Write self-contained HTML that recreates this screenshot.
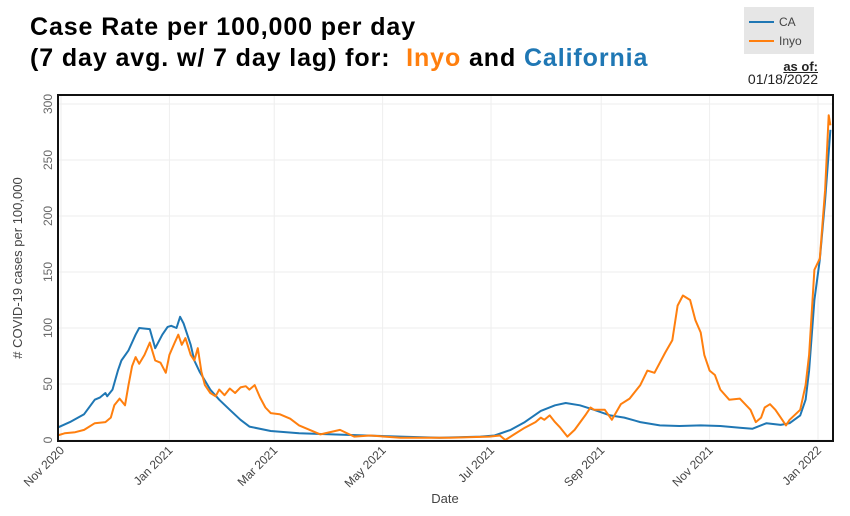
<!DOCTYPE html>
<html><head><meta charset="utf-8">
<style>
body{margin:0;background:#fff;width:850px;height:516px;overflow:hidden;font-family:"Liberation Sans",sans-serif;}
#wrap{position:relative;width:850px;height:516px;}
.title{position:absolute;left:30px;top:12px;font-weight:bold;font-size:25px;line-height:31px;color:#000;letter-spacing:0.9px}
.legend{position:absolute;left:744px;top:7px;width:70px;height:47px;background:#e6e6e6}
.asof{position:absolute;right:32px;top:60px;text-align:right;font-size:14px;line-height:13px;color:#222}
</style></head><body>
<div id="wrap">
<div class="title">Case Rate per 100,000 per day<br>(7 day avg. w/ 7 day lag) for:&nbsp; <span style="color:#ff7f0e">Inyo</span> and <span style="color:#1f77b4">California</span></div>
<div class="legend">
<svg width="70" height="47">
<g><line x1="5" y1="15" x2="30" y2="15" stroke="#1f77b4" stroke-width="2"/><text x="35" y="19" font-size="12" fill="#444">CA</text></g>
<g><line x1="5" y1="34" x2="30" y2="34" stroke="#ff7f0e" stroke-width="2"/><text x="35" y="38" font-size="12" fill="#444">Inyo</text></g>
</svg></div>
<div class="asof"><b style="text-decoration:underline;font-size:13px">as of:</b><br>01/18/2022</div>
<svg id="chart" width="850" height="516" style="position:absolute;left:0;top:0"></svg>
</div>
<script>
const yTicks=[0,50,100,150,200,250,300];
const xTickLabels=["Nov 2020","Jan 2021","Mar 2021","May 2021","Jul 2021","Sep 2021","Nov 2021","Jan 2022"];
const xTickDays=[0,61,120,181,242,304,365,426];
const caDays=[-2,5,13,19,22,25,26,29,32,34,38,42,44,50,53,57,60,62,65,67,69,73,75,78,84,89,95,101,106,118,134,163,191,213,236,244,253,261,270,278,284,292,300,309,317,326,337,348,360,371,382,389,397,405,410,416,419,421,424,427,430,433];
const caVals=[11,16,23,36,38,42,39,45,62,71,80,94,100,99,82,94,101,102,100,110,104,85,71,61,45,36,27,18,12,8,6,4.5,3,2,3,4,9,16,26,31,33,31,27,22,20,16,13,12.5,13,12.5,11,10,15,13.5,15,22,36,62,125,161,214,277];
const inDays=[-2,2,8,13,19,25,28,30,33,36,38,40,42,44,47,50,53,56,59,61,64,66,68,70,73,75,77,79,81,84,87,89,92,95,98,101,104,106,109,112,115,118,123,129,134,140,146,157,165,174,191,219,241,247,250,255,261,267,270,272,275,278,281,285,289,295,298,300,306,310,315,320,326,330,334,340,344,347,350,354,357,360,362,365,368,371,376,382,388,391,394,396,399,402,405,408,410,416,419,421,424,427,430,432,433];
const inVals=[4,6,7,9,15,16,20,31,37,31,49,66,74,68,76,87,71,69,60,76,87,94,85,91,76,71,82,61,49,42,39,45,40,46,42,47,48,45,49,38,29,24,23,19,13,9,5,9,3,4,2,2,3,4,0,5,11,16,20,18,22,16,11,3,9,22,29,27,27,18,32,37,49,62,60,78,89,120,129,125,107,96,76,62,58,45,36,37,27,16,20,29,32,27,20,13,18,27,49,76,152,162,223,290,281];

const svg=document.getElementById('chart');
const NS='http://www.w3.org/2000/svg';
const L=58,R=833,T=95,B=441;
function xs(d){return 61+d*1.777;}
function ys(v){return 440-v*1.12;}
function mk(tag,attrs){const e=document.createElementNS(NS,tag);for(const k in attrs)e.setAttribute(k,attrs[k]);svg.appendChild(e);return e;}
yTicks.forEach(v=>{
  const g=mk('line',{x1:L,x2:R,y1:ys(v),y2:ys(v),stroke:'#eee','stroke-width':1});
  
  
  const t=mk('text',{x:0,y:0,'font-size':12,fill:'#666','text-anchor':'middle',transform:`translate(52,${ys(v)}) rotate(-90)`});
  t.textContent=v;
  
  
});
xTickDays.forEach((d,i)=>{
  const g=mk('line',{x1:xs(d),x2:xs(d),y1:T,y2:B,stroke:'#eee','stroke-width':1});
  
  
  const t=mk('text',{x:0,y:0,'font-size':12,fill:'#444','text-anchor':'end',transform:`translate(${xs(d)+4},${B+10}) rotate(-45)`});
  t.textContent=xTickLabels[i];
  
  
});
function line(days,vals,color,name){
  const p=days.map((d,i)=>(i?'L':'M')+xs(d).toFixed(1)+','+ys(vals[i]).toFixed(1)).join('');
  const e=mk('path',{d:p,fill:'none',stroke:color,'stroke-width':2,'stroke-linejoin':'round'});
  
  
}
line(caDays,caVals,'#1f77b4','ca-line');
line(inDays,inVals,'#ff7f0e','inyo-line');
const fr=mk('rect',{x:L,y:T,width:R-L,height:B-T,fill:'none',stroke:'#111','stroke-width':2});


const yt=mk('text',{x:0,y:0,'font-size':13,fill:'#444','text-anchor':'middle',transform:'translate(22,268) rotate(-90)'});
yt.textContent='# COVID-19 cases per 100,000';


const xt=mk('text',{x:445,y:503,'font-size':13,fill:'#444','text-anchor':'middle'});
xt.textContent='Date';


</script>
</body></html>
